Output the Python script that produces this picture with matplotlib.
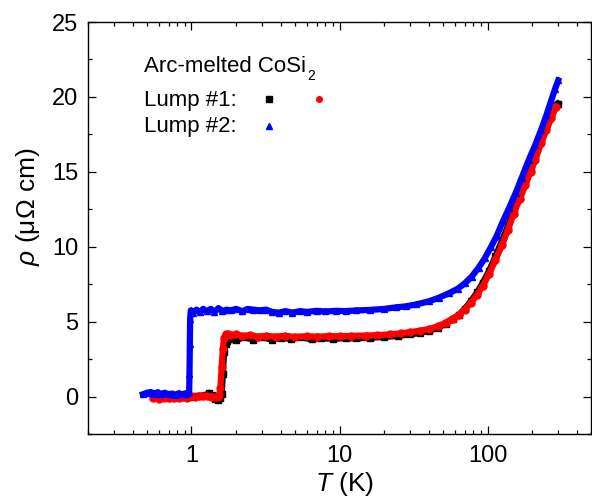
import matplotlib
matplotlib.use("Agg")
import matplotlib.pyplot as plt
from matplotlib.ticker import LogLocator, MultipleLocator, FixedLocator, NullFormatter

plt.rcParams['font.family'] = ['Liberation Sans', 'DejaVu Sans']
plt.rcParams['mathtext.fontset'] = 'custom'
plt.rcParams['mathtext.rm'] = 'Liberation Sans'
plt.rcParams['mathtext.it'] = 'Liberation Sans:italic'

# Lump #1, first run (black squares)
t_black = [0.6, 0.66, 0.72, 0.8, 0.88, 0.96, 1.05, 1.15, 1.25, 1.32, 1.38, 1.44, 1.5, 1.56, 1.6,
           1.63, 1.66, 1.7, 1.75, 1.82,
           2.0, 2.3, 2.6, 3.0, 3.5, 4.0, 4.7, 5.5, 6.5, 7.5, 9, 11, 13, 16, 20, 25, 30, 35, 40,
           46, 52, 58, 64, 70, 77, 85, 93, 102, 113, 125, 137, 150, 165, 180, 195, 210, 230,
           250, 270, 300]
rho_black = [-0.05, 0.0, -0.08, -0.02, -0.05, 0.0, 0.02, 0.05, 0.1, 0.25, 0.1, -0.15, -0.2, -0.1, 0.2,
             1.5, 3.0, 3.5, 3.7, 3.85,
             3.8, 3.95, 3.8, 3.95, 3.8, 3.92, 3.85, 3.95, 3.82, 3.9, 3.85, 3.9, 3.88, 3.92, 3.98,
             4.05, 4.15, 4.25, 4.4, 4.58, 4.85, 5.15, 5.45, 5.85, 6.35, 6.95, 7.6, 8.35, 9.35,
             10.4, 11.35, 12.4, 13.4, 14.3, 15.2, 16.0, 17.1, 18.0, 18.8, 19.55]

# Lump #1, second run (red circles)
t_red = [0.55, 0.6, 0.65, 0.7, 0.76, 0.82, 0.88, 0.94, 1.0, 1.06, 1.12, 1.2, 1.28, 1.36, 1.44, 1.5, 1.54,
         1.57, 1.6, 1.63, 1.66, 1.7, 1.76,
         1.85, 2.0, 2.2, 2.5, 2.8, 3.2, 3.7, 4.3, 5, 6, 7, 8.5, 10, 12, 15, 18, 22, 26, 30, 35, 40,
         46, 52, 58, 64, 70, 77, 85, 93, 102, 113, 125, 137, 150, 165, 180, 195, 210, 230,
         250, 270, 290]
rho_red = [-0.08, -0.15, -0.1, -0.12, -0.08, -0.1, -0.05, -0.08, 0.02, 0.0, 0.05, 0.02, 0.05, 0.0, -0.05, -0.02, 0.1,
           0.6, 2.0, 3.2, 3.9, 4.15, 4.2,
           4.1, 4.15, 4.05, 4.1, 4.0, 4.05, 4.0, 4.05, 3.98, 4.02, 4.0, 4.03, 4.02, 4.05, 4.07, 4.1,
           4.15, 4.22, 4.3, 4.4, 4.5, 4.68, 4.93, 5.2, 5.45, 5.8, 6.25, 6.8, 7.4, 8.15, 9.1, 10.1,
           11.1, 12.2, 13.2, 14.1, 15.0, 15.8, 16.9, 17.8, 18.6, 19.35]

# Lump #2 (blue triangles)
t_blue = [0.47, 0.5, 0.53, 0.56, 0.59, 0.62, 0.66, 0.7, 0.74, 0.78, 0.82, 0.86, 0.9, 0.94, 0.965,
          0.97, 0.975, 0.98, 0.99,
          1.03, 1.08, 1.14, 1.2, 1.27, 1.35, 1.43, 1.52, 1.62, 1.72, 1.85, 2.0, 2.2, 2.4, 2.6, 2.9,
          3.2, 3.5, 3.9, 4.3, 4.8, 5.4, 6.0, 7.0, 8.0, 9.5, 11, 13, 16, 20, 24, 28, 33, 40, 47, 55,
          63, 70, 78, 87, 96, 105, 115, 127, 140, 155, 170, 190, 210, 230, 250, 270, 285, 300]
rho_blue = [0.15, 0.25, 0.3, 0.2, 0.28, 0.18, 0.25, 0.15, 0.2, 0.12, 0.22, 0.15, 0.2, 0.25, 0.3,
            1.5, 3.5, 5.2, 5.75,
            5.6, 5.8, 5.65, 5.85, 5.7, 5.85, 5.65, 5.9, 5.7, 5.8, 5.75, 5.85, 5.7, 5.85, 5.8, 5.75,
            5.8, 5.65, 5.6, 5.7, 5.6, 5.7, 5.65, 5.72, 5.68, 5.72, 5.7, 5.75, 5.78, 5.85, 5.95, 6.02,
            6.15, 6.35, 6.6, 6.9, 7.2, 7.55, 8.0, 8.6, 9.25, 9.95, 10.7, 11.7, 12.6, 13.6, 14.6,
            15.8, 16.8, 17.8, 18.8, 19.8, 20.5, 21.1]

fig = plt.figure(figsize=(5.92, 4.98), dpi=100)
ax = fig.add_axes([0.1486, 0.1285, 0.8498, 0.8273])

ax.plot(t_black, rho_black, color='black', lw=4.5, marker='s', ms=5, solid_joinstyle='round')
ax.plot(t_red, rho_red, color='red', lw=4.5, marker='o', ms=5, solid_joinstyle='round')
ax.plot(t_blue, rho_blue, color='blue', lw=4.5, marker='^', ms=5, solid_joinstyle='round')

ax.set_xscale('log')
ax.set_xlim(0.2, 500)
ax.set_ylim(-2.5, 25)

ax.xaxis.set_major_locator(FixedLocator([1, 10, 100]))
ax.xaxis.set_minor_locator(LogLocator(base=10, subs=range(2, 10)))
ax.xaxis.set_minor_formatter(NullFormatter())
ax.set_xticklabels(['1', '10', '100'])
ax.yaxis.set_major_locator(MultipleLocator(5))
ax.yaxis.set_minor_locator(MultipleLocator(2.5))

ax.tick_params(which='both', direction='in', top=True, right=True, width=0.9, color='black')
ax.tick_params(which='major', length=6, labelsize=17)
ax.tick_params(axis='x', which='major', pad=8)
ax.tick_params(axis='y', which='major', pad=7)
ax.tick_params(which='minor', length=3.2)
for sp in ax.spines.values():
    sp.set_linewidth(1.0)

ax.set_xlabel(r'$T$ (K)', fontsize=19)
ax.set_ylabel(r'$\rho$ (μΩ cm)', fontsize=19)
ax.xaxis.set_label_coords(0.51, -0.087)
ax.yaxis.set_label_coords(-0.092, 0.552)

# legend block
ax.text(0.111, 0.878, 'Arc-melted CoSi', transform=ax.transAxes, fontsize=16, va='baseline')
ax.text(0.436, 0.869, '2', transform=ax.transAxes, fontsize=10, va='center')
ax.text(0.111, 0.797, 'Lump #1:', transform=ax.transAxes, fontsize=16, va='baseline')
ax.text(0.111, 0.732, 'Lump #2:', transform=ax.transAxes, fontsize=16, va='baseline')
ax.plot([0.3595], [0.812], 's', color='black', ms=4, transform=ax.transAxes)
ax.plot([0.4588], [0.812], 'o', color='red', ms=4, transform=ax.transAxes)
ax.plot([0.3595], [0.748], '^', color='blue', ms=4, transform=ax.transAxes)

fig.savefig('out.png', dpi=100)
